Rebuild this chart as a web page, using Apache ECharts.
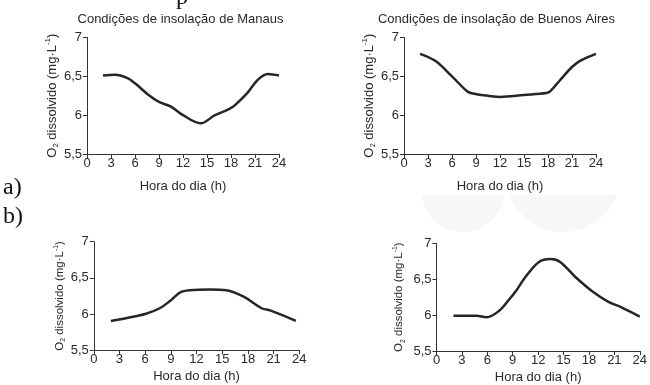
<!DOCTYPE html>
<html>
<head>
<meta charset="utf-8">
<style>
  html, body { margin: 0; padding: 0; background: #ffffff; }
  #chart { width: 650px; height: 385px; }
</style>
<script src="https://cdn.jsdelivr.net/npm/echarts@6/dist/echarts.min.js"></script>
</head>
<body>
<div id="chart"></div>
<script>
// ---- Data ----
const xTicks = [0, 3, 6, 9, 12, 15, 18, 21, 24];
const yTicks = [5.5, 6, 6.5, 7];

const titles = ['Condições de insolação de Manaus', 'Condições de insolação de Buenos Aires'];
const panelLabels = ['a)', 'b)'];
const xName = 'Hora do dia (h)';

// a) Manaus
const manausAHours  = [2, 3.5, 5, 6, 7.7, 9, 10.5, 12, 14.2, 16, 17.8, 18.5, 20, 21.3, 22.6, 24];
const manausAValues = [6.51, 6.52, 6.48, 6.41, 6.26, 6.17, 6.11, 6.0, 5.895, 6.0, 6.08, 6.13, 6.28, 6.45, 6.53, 6.51];
// a) Buenos Aires
const buenosAHours  = [2, 3.9, 6, 8, 9.1, 10.5, 12, 15, 17.8, 18.3, 19.5, 21, 22, 24];
const buenosAValues = [6.79, 6.7, 6.5, 6.3, 6.27, 6.25, 6.235, 6.26, 6.285, 6.31, 6.45, 6.62, 6.7, 6.79];
// b) Manaus
const manausBHours  = [2, 4, 6, 7.7, 8.9, 10.1, 11.2, 13.6, 15.5, 17.5, 19.6, 20.6, 23.6];
const manausBValues = [5.905, 5.95, 6.0, 6.08, 6.18, 6.3, 6.33, 6.34, 6.33, 6.24, 6.08, 6.05, 5.905];
// b) Buenos Aires
const buenosBHours  = [2, 4.7, 5.9, 7.4, 8.6, 9.4, 10.5, 12.1, 13.5, 14.6, 16.4, 18.3, 20.3, 21.9, 24];
const buenosBValues = [5.99, 5.99, 5.97, 6.06, 6.22, 6.34, 6.53, 6.74, 6.78, 6.74, 6.53, 6.34, 6.185, 6.105, 5.98];

// ---- Build ----
const SANS = '"Liberation Sans", Arial, sans-serif';
const NARROW = '"Liberation Sans Narrow", "Arial Narrow", "Liberation Sans", sans-serif';
const SERIF = '"Liberation Serif", "Times New Roman", serif';
const TXT = '#2a2a2a';

const grids = [
  { left: 87,    top: 37.5,  width: 192,   height: 116.5 },
  { left: 404,   top: 37.5,  width: 192,   height: 116.5 },
  { left: 93.8,  top: 241.7, width: 205.5, height: 108.5 },
  { left: 436.5, top: 243.3, width: 205.2, height: 107.7 }
];
const xNameGaps = [26, 26, 20, 20];
const yNameGaps = [24, 26, 25, 30];
const yNameSizes = [13, 13, 11.5, 11.5];

const seriesSets = [
  [manausAHours, manausAValues],
  [buenosAHours, buenosAValues],
  [manausBHours, manausBValues],
  [buenosBHours, buenosBValues]
];

function pairs(hs, vs) { return hs.map((h, i) => [h, vs[i]]); }

const xAxes = grids.map((g, i) => ({
  type: 'value', gridIndex: i, min: xTicks[0], max: xTicks[xTicks.length - 1], interval: 3,
  axisLine: { show: true, lineStyle: { color: '#333', width: 1 } },
  axisTick: { show: true, length: 4, lineStyle: { color: '#333' } },
  splitLine: { show: false },
  axisLabel: { margin: 3, fontSize: 13, fontFamily: NARROW, color: TXT },
  name: xName, nameLocation: 'middle', nameGap: xNameGaps[i],
  nameTextStyle: { fontSize: 13, fontFamily: NARROW, color: TXT }
}));

const yAxes = grids.map((g, i) => {
  const fs = yNameSizes[i];
  return {
    type: 'value', gridIndex: i, min: yTicks[0], max: yTicks[yTicks.length - 1], interval: 0.5,
    axisLine: { show: true, lineStyle: { color: '#333', width: 1 } },
    axisTick: { show: true, length: 4, lineStyle: { color: '#333' } },
    splitLine: { show: false },
    axisLabel: { margin: 5, fontSize: 13, fontFamily: NARROW, color: TXT,
      formatter: v => String(v).replace('.', ',') },
    name: '{n|O}{s|2}{n| dissolvido (mg·L}{p|-1}{n|)}',
    nameLocation: 'middle', nameGap: yNameGaps[i],
    nameTextStyle: {
      rich: {
        n: { fontSize: fs, fontFamily: SANS, color: TXT, lineHeight: fs + 3 },
        s: { fontSize: fs * 0.6, fontFamily: SANS, color: TXT, lineHeight: fs + 3, verticalAlign: 'bottom' },
        p: { fontSize: fs * 0.6, fontFamily: SANS, color: TXT, lineHeight: fs + 3, verticalAlign: 'top' }
      }
    }
  };
});

const series = seriesSets.map((s, i) => ({
  type: 'line', xAxisIndex: i, yAxisIndex: i,
  data: pairs(s[0], s[1]),
  smooth: 0.35, showSymbol: false, symbol: 'none',
  lineStyle: { color: '#262626', width: 2.5 },
  silent: true
}));

const graphic = [
  // faint background watermark shapes
  { type: 'circle', z: -10, silent: true, shape: { cx: 463, cy: 190, r: 42 }, style: { fill: '#f7f7f7' } },
  { type: 'circle', z: -10, silent: true, shape: { cx: 563, cy: 175, r: 57 }, style: { fill: '#f7f7f7' } },
  { type: 'rect', z: -9, silent: true, shape: { x: 330, y: 232, width: 320, height: 153 }, style: { fill: '#ffffff' } },
  { type: 'rect', z: -9, silent: true, shape: { x: 330, y: 100, width: 320, height: 95 }, style: { fill: '#ffffff' } },
  { type: 'text', x: 176, y: 10, style: { text: 'p', font: '24px ' + SERIF, fill: '#111', align: 'left', verticalAlign: 'bottom' } },
  { type: 'text', x: 180.5, y: 19, style: { text: titles[0], font: '13px ' + SANS, fill: TXT, align: 'center', verticalAlign: 'middle' } },
  { type: 'text', x: 496.5, y: 19, style: { text: titles[1], font: '13px ' + SANS, fill: TXT, align: 'center', verticalAlign: 'middle' } },
  { type: 'text', x: 3, y: 188, style: { text: panelLabels[0], font: '24px ' + SERIF, fill: '#111', align: 'left', verticalAlign: 'middle' } },
  { type: 'text', x: 3, y: 217, style: { text: panelLabels[1], font: '24px ' + SERIF, fill: '#111', align: 'left', verticalAlign: 'middle' } }
];

const chart = echarts.init(document.getElementById('chart'), null, { renderer: 'canvas' });
chart.setOption({
  animation: false,
  backgroundColor: '#ffffff',
  grid: grids.map(g => Object.assign({ containLabel: false }, g)),
  xAxis: xAxes,
  yAxis: yAxes,
  series: series,
  graphic: graphic
});
</script>
</body>
</html>
